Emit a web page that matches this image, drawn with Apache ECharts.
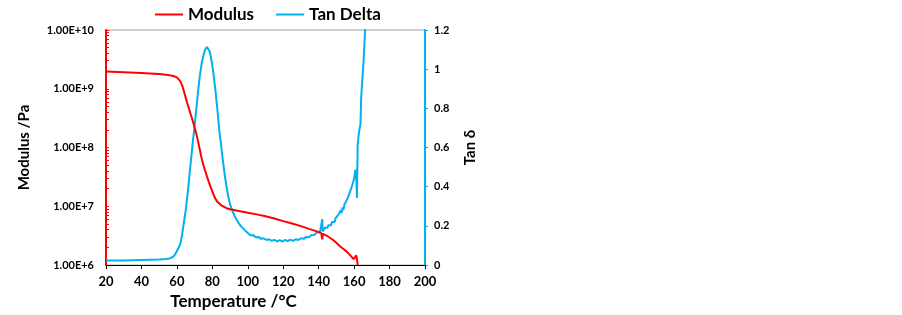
<!DOCTYPE html>
<html>
<head>
<meta charset="utf-8">
<script src="https://cdn.jsdelivr.net/npm/echarts@6/dist/echarts.min.js"></script>
<style>
  html, body { margin: 0; padding: 0; background: #fff; }
  #chart { width: 902px; height: 315px; }
</style>
</head>
<body>
<div id="chart"></div>
<script>
// storage modulus (Pa)
const modTemp = [20, 30, 40, 50, 55, 58, 60, 61, 62, 63, 64, 65, 66, 67, 68, 69, 70, 71, 72, 73,
  74, 75, 76, 77, 78, 79, 80, 81, 82, 83, 84, 85, 86, 88, 90, 95, 100, 105, 110, 115,
  120, 125, 130, 135, 139, 141.5, 142, 142.4, 145, 148, 150, 152, 154, 156, 158, 159.7, 160.3, 161.2, 161.8, 162]
const modValue = [1.96e9, 1.91e9, 1.86e9, 1.78e9, 1.72e9, 1.65e9, 1.56e9, 1.47e9, 1.34e9, 1.14e9, 9.0e8, 7.0e8, 5.5e8, 4.4e8, 3.5e8, 2.8e8, 2.2e8, 1.7e8, 1.25e8, 9e7,
  6.5e7, 5e7, 4e7, 3.2e7, 2.6e7, 2.15e7, 1.8e7, 1.5e7, 1.3e7, 1.18e7, 1.1e7, 1.04e7, 9.9e6, 9.3e6, 8.9e6, 8.3e6, 7.8e6, 7.3e6, 6.8e6, 6.2e6,
  5.6e6, 5.1e6, 4.6e6, 4.1e6, 3.75e6, 3.5e6, 2.75e6, 3.4e6, 3.1e6, 2.7e6, 2.4e6, 2.1e6, 1.88e6, 1.68e6, 1.45e6, 1.26e6, 1.33e6, 1.46e6, 1.15e6, 1e6]

// tan delta
const tanTemp = [20, 30, 40, 50, 54, 56, 58, 59, 60, 61, 62, 63, 64, 65, 66, 67, 68, 69, 70, 71,
  72, 73, 74, 75, 75.5, 76, 76.5, 77, 77.5, 78, 78.5, 79, 80, 81, 82, 83, 84, 85, 86, 87, 88, 89, 90, 91,
  92, 93, 94, 95, 96, 97, 98, 99,
  100, 100.5, 101, 101.5, 102, 102.5, 103, 103.5, 104, 104.5, 105, 105.5, 106, 106.5, 107, 107.5, 108, 108.5, 109, 109.5,
  110, 110.5, 111, 111.5, 112, 112.5, 113, 113.5, 114, 114.5, 115, 115.5, 116, 116.5, 117, 117.5, 118, 118.5, 119, 119.5,
  120, 120.5, 121, 121.5, 122, 122.5, 123, 123.5, 124, 124.5, 125, 125.5, 126, 126.5, 127, 127.5, 128, 128.5, 129, 129.5,
  130, 130.5, 131, 131.5, 132, 132.5, 133, 133.5, 134, 134.5, 135, 135.5, 136, 136.5, 137, 137.5, 138, 138.5, 139, 139.5,
  140, 140.5, 141, 141.5, 142, 142.3, 142.7, 143, 143.5, 144, 144.5, 145, 145.5, 146, 146.5, 147, 147.5, 148, 148.5, 149, 149.5,
  150, 150.5, 151, 151.5, 152, 152.5, 153, 153.5, 154, 154.5, 155, 155.5, 156, 156.5, 157, 157.5, 158, 158.5, 159, 159.5,
  160, 160.5, 160.8, 161.2, 161.6, 162, 162.5, 163, 163.6, 164, 164.8, 165.4, 166.2, 166.6]
const tanValue = [0.024, 0.024, 0.026, 0.028, 0.031, 0.034, 0.043, 0.055, 0.072, 0.09, 0.11, 0.16, 0.22, 0.28, 0.36, 0.45, 0.54, 0.63, 0.71, 0.80,
  0.89, 0.97, 1.03, 1.072, 1.088, 1.101, 1.109, 1.113, 1.111, 1.103, 1.090, 1.070, 1.02, 0.95, 0.87, 0.78, 0.68, 0.61, 0.53, 0.46, 0.40, 0.35, 0.31, 0.285,
  0.262, 0.243, 0.227, 0.213, 0.200, 0.190, 0.181, 0.173,
  0.164, 0.158, 0.163, 0.152, 0.156, 0.149, 0.153, 0.145, 0.150, 0.142, 0.146, 0.139, 0.144, 0.136, 0.141, 0.134, 0.139, 0.131, 0.137, 0.130,
  0.135, 0.128, 0.134, 0.127, 0.132, 0.126, 0.131, 0.124, 0.130, 0.123, 0.129, 0.122, 0.128, 0.121, 0.127, 0.122, 0.128, 0.121, 0.127, 0.120,
  0.128, 0.122, 0.129, 0.121, 0.128, 0.122, 0.129, 0.123, 0.130, 0.122, 0.129, 0.124, 0.131, 0.125, 0.132, 0.126, 0.133, 0.128, 0.135, 0.130,
  0.137, 0.132, 0.139, 0.134, 0.141, 0.137, 0.144, 0.139, 0.147, 0.142, 0.150, 0.146, 0.154, 0.149, 0.158, 0.153, 0.163, 0.158, 0.168, 0.163,
  0.174, 0.167, 0.180, 0.172, 0.235, 0.170, 0.190, 0.178, 0.192, 0.184, 0.198, 0.190, 0.204, 0.197, 0.212, 0.204, 0.220, 0.212, 0.228, 0.220, 0.238,
  0.230, 0.250, 0.240, 0.262, 0.252, 0.280, 0.266, 0.295, 0.282, 0.310, 0.300, 0.325, 0.318, 0.345, 0.338, 0.370, 0.362, 0.395, 0.400, 0.425,
  0.440, 0.475, 0.487, 0.455, 0.343, 0.61, 0.66, 0.69, 0.72, 0.86, 0.87, 1.05, 1.2, 1.26]

// log axis ticks: 1..9 x each decade, like the spreadsheet minor ticks
const decades = [1e6, 1e7, 1e8, 1e9]
const logTicks = [1e10]
decades.forEach(d => { for (let k = 1; k <= 9; k++) logTicks.push(k * d) })

const font = 'Lato, "Open Sans", sans-serif'
const RED = '#ff0000'
const BLUE = '#00b0f0'

const chart = echarts.init(document.getElementById('chart'), null, { renderer: 'canvas' })
chart.setOption({
  animation: false,
  textStyle: { fontFamily: font },
  grid: {
    left: 106, right: 477, top: 30, bottom: 49,
    show: true, borderColor: '#a0a0a0', borderWidth: 1, backgroundColor: 'transparent'
  },
  legend: {
    left: 150, top: 1,
    icon: 'rect', itemWidth: 28, itemHeight: 2, itemGap: 22,
    textStyle: { fontFamily: font, fontWeight: 'bold', fontSize: 17, color: '#000' },
    data: ['Modulus', 'Tan Delta']
  },
  xAxis: {
    type: 'value', min: 20, max: 200, interval: 20,
    name: 'Temperature /°C', nameLocation: 'middle', nameGap: 26,
    nameTextStyle: { fontFamily: font, fontWeight: 'bold', fontSize: 17, color: '#000', padding: [0, 64, 0, 0] },
    axisLine: { lineStyle: { color: '#000', width: 1 } },
    axisTick: { show: true, length: 4, lineStyle: { color: '#000' } },
    axisLabel: { fontFamily: font, fontWeight: 'bold', fontSize: 13, color: '#000', margin: 10 },
    splitLine: { show: false }
  },
  yAxis: [
    {
      type: 'log', logBase: 10, min: 1e6, max: 1e10,
      name: 'Modulus /Pa', nameLocation: 'middle', nameGap: 74, nameRotate: 90,
      nameTextStyle: { fontFamily: font, fontWeight: 'bold', fontSize: 15, color: '#000' },
      axisLine: { show: true, lineStyle: { color: RED, width: 2 } },
      axisTick: { show: true, inside: true, length: 3, customValues: logTicks, lineStyle: { color: RED } },
      axisLabel: {
        fontFamily: font, fontWeight: 'bold', fontSize: 11, color: '#000', margin: 12,
        formatter: v => v.toExponential(2).toUpperCase()
      },
      splitLine: { show: false }
    },
    {
      type: 'value', min: 0, max: 1.2, interval: 0.2, position: 'right',
      name: 'Tan δ', nameLocation: 'middle', nameGap: 38, nameRotate: 90,
      nameTextStyle: { fontFamily: font, fontWeight: 'bold', fontSize: 15, color: '#000' },
      axisLine: { show: true, lineStyle: { color: BLUE, width: 2 } },
      axisTick: { show: true, length: 3, lineStyle: { color: BLUE } },
      axisLabel: {
        fontFamily: font, fontWeight: 'bold', fontSize: 11, color: '#000', margin: 9,
        formatter: v => String(Math.round(v * 10) / 10)
      },
      splitLine: { show: false }
    }
  ],
  series: [
    {
      name: 'Modulus', type: 'line', yAxisIndex: 0, symbol: 'none',
      data: modTemp.map((t, i) => [t, modValue[i]]),
      lineStyle: { color: RED, width: 2 }, itemStyle: { color: RED }, z: 3
    },
    {
      name: 'Tan Delta', type: 'line', yAxisIndex: 1, symbol: 'none',
      data: tanTemp.map((t, i) => [t, tanValue[i]]),
      lineStyle: { color: BLUE, width: 2 }, itemStyle: { color: BLUE }, z: 2
    }
  ]
})
</script>
</body>
</html>
